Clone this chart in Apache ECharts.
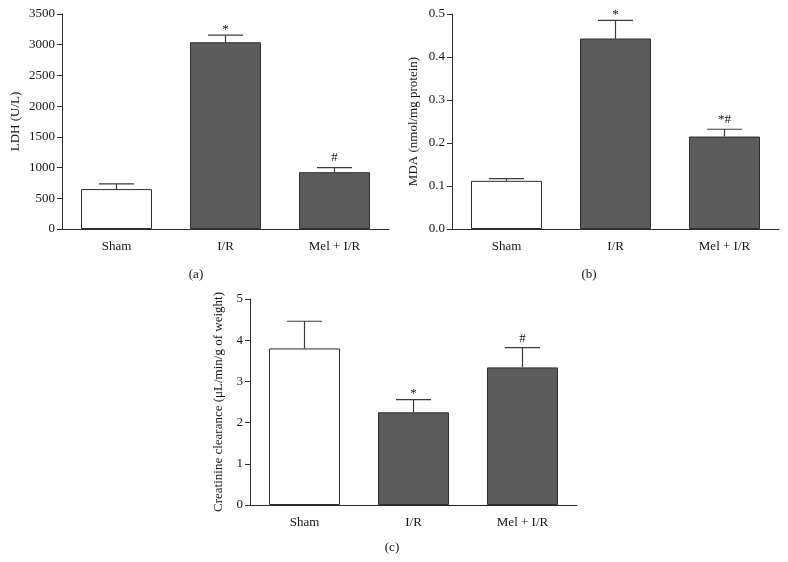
<!DOCTYPE html>
<html>
<head>
<meta charset="utf-8">
<script src="https://cdn.jsdelivr.net/npm/echarts@6/dist/echarts.min.js"></script>
<style>html,body{margin:0;padding:0;background:#fff}#c{width:788px;height:562px}</style>
</head>
<body>
<div id="c"></div>
<script>
const categories = ['Sham', 'I/R', 'Mel + I/R'];
const ldhMean = [650, 3040, 925];
const ldhErr = [735, 3155, 1000];
const ldhSig = ['', '*', '#'];
const mdaMean = [0.112, 0.443, 0.215];
const mdaErr = [0.117, 0.485, 0.232];
const mdaSig = ['', '*', '*#'];
const ccMean = [3.80, 2.25, 3.34];
const ccErr = [4.46, 2.56, 3.82];
const ccSig = ['', '*', '#'];
const panelLabels = ['(a)', '(b)', '(c)'];

const FONT = 'Liberation Serif';
const TXT = '#151515';
const AX = '#2e2e2e';
const BAR = '#5c5c5c';

const chart = echarts.init(document.getElementById('c'), null, {renderer: 'canvas'});

function xAxis(i) {
  return {
    type: 'category', gridIndex: i, data: categories,
    axisLine: {lineStyle: {color: AX, width: 1}},
    axisTick: {alignWithLabel: true, length: 5, lineStyle: {color: AX}},
    axisLabel: {color: TXT, fontFamily: FONT, fontSize: 13, margin: 11}
  };
}
function yAxis(i, name, min, max, interval, gap, dec) {
  return {
    type: 'value', gridIndex: i, min: min, max: max, interval: interval,
    name: name, nameLocation: 'middle', nameGap: gap, nameRotate: 90,
    nameTextStyle: {color: TXT, fontFamily: FONT, fontSize: 13},
    axisLine: {show: true, lineStyle: {color: AX, width: 1}},
    axisTick: {show: true, length: 5, lineStyle: {color: AX}},
    splitLine: {show: false},
    axisLabel: {color: TXT, fontFamily: FONT, fontSize: 13, margin: 7,
      formatter: v => dec ? v.toFixed(dec) : String(v)}
  };
}
function barSeries(i, vals) {
  return {
    type: 'bar', xAxisIndex: i, yAxisIndex: i, barWidth: 71,
    data: vals.map((v, k) => ({value: v, itemStyle: {color: k === 0 ? '#ffffff' : BAR}})),
    itemStyle: {borderColor: AX, borderWidth: 1},
    z: 2, silent: true
  };
}
function errSeries(i, means, errs, sigs) {
  return {
    type: 'custom', xAxisIndex: i, yAxisIndex: i, z: 3, silent: true,
    data: means.map((m, k) => [k, m, errs[k]]),
    renderItem: function (params, api) {
      const x = api.value(0);
      const p0 = api.coord([x, api.value(1)]);
      const p1 = api.coord([x, api.value(2)]);
      const half = 17.5;
      const st = {stroke: '#3a3a3a', lineWidth: 1.2};
      const children = [
        {type: 'line', shape: {x1: p0[0], y1: p0[1], x2: p1[0], y2: p1[1]}, style: st},
        {type: 'line', shape: {x1: p1[0] - half, y1: p1[1], x2: p1[0] + half, y2: p1[1]}, style: st}
      ];
      const s = sigs[params.dataIndex];
      if (s) {
        const off = s === '*' ? 1 : -3;
        children.push({type: 'text', x: p1[0], y: p1[1] + off,
          style: {text: s, fill: TXT, font: '13px "' + FONT + '"', align: 'center', verticalAlign: 'bottom'}});
      }
      return {type: 'group', children: children};
    }
  };
}

chart.setOption({
  animation: false,
  backgroundColor: '#fff',
  grid: [
    {left: 62, top: 14, width: 327, height: 215},
    {left: 452, top: 14, width: 327, height: 215},
    {left: 250, top: 299, width: 327, height: 206}
  ],
  xAxis: [xAxis(0), xAxis(1), xAxis(2)],
  yAxis: [
    yAxis(0, 'LDH (U/L)', 0, 3500, 500, 40, 0),
    yAxis(1, 'MDA (nmol/mg protein)', 0, 0.5, 0.1, 32, 1),
    yAxis(2, 'Creatinine clearance (μL/min/g of weight)', 0, 5, 1, 25, 0)
  ],
  series: [
    barSeries(0, ldhMean), errSeries(0, ldhMean, ldhErr, ldhSig),
    barSeries(1, mdaMean), errSeries(1, mdaMean, mdaErr, mdaSig),
    barSeries(2, ccMean), errSeries(2, ccMean, ccErr, ccSig)
  ],
  graphic: [
    {type: 'text', x: 196, y: 275, style: {text: panelLabels[0], fill: TXT, font: '13px "' + FONT + '"', align: 'center', verticalAlign: 'middle'}},
    {type: 'text', x: 589, y: 275, style: {text: panelLabels[1], fill: TXT, font: '13px "' + FONT + '"', align: 'center', verticalAlign: 'middle'}},
    {type: 'text', x: 392, y: 548, style: {text: panelLabels[2], fill: TXT, font: '13px "' + FONT + '"', align: 'center', verticalAlign: 'middle'}}
  ]
});
</script>
</body>
</html>
